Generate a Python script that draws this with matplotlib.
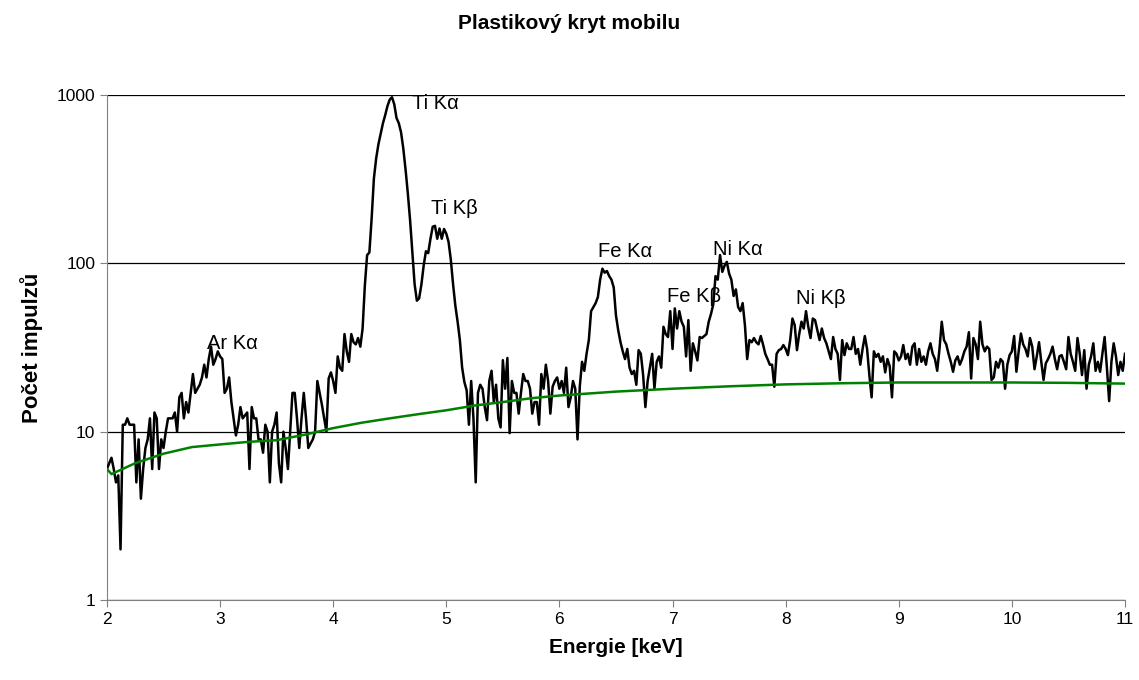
import numpy as np
import matplotlib
matplotlib.use('Agg')
import matplotlib.pyplot as plt
from matplotlib.ticker import FixedLocator, NullLocator, FixedFormatter

plt.rcParams['font.family'] = ['Liberation Sans', 'DejaVu Sans']

# ── data ──────────────────────────────────────────────────────────────────────
E_START = 2.0     # keV, first channel
E_STEP  = 0.02    # keV per channel

counts = [
    6, 6.5, 7, 6, 5, 5.5, 2, 11, 11, 12, 11, 11, 11, 5, 9, 4, 6, 8, 9, 12, 6, 13, 12, 6, 9,
    8, 10, 12, 12, 12, 13, 10, 16, 17, 12, 15, 13, 17, 22, 17, 18, 19, 21, 25, 21, 27, 32, 25, 27, 30,
    28, 27, 17, 18, 21, 15, 12, 9.5, 11, 14, 12, 12.5, 13, 6, 14, 12, 12, 9, 9, 7.5, 11, 10, 5, 10, 11,
    13, 6.5, 5, 10, 8, 6, 10, 17, 17, 12, 8, 12, 17, 12, 8, 8.5, 9, 10, 20, 17, 14.5, 12, 10, 20.7, 22.5,
    20, 17, 28, 24, 23, 38, 30, 26, 38, 34, 33, 36, 32, 41, 74, 112, 116, 185, 320, 420, 510, 590, 680, 760, 860,
    940, 970, 880, 730, 680, 600, 480, 360, 260, 180, 115, 75, 60, 62, 75, 97, 118, 115, 140, 165, 167, 140, 161, 140, 160,
    150, 134, 105, 75, 56, 45, 35, 24, 19.7, 17.6, 11, 20, 12, 5, 17, 19, 18, 14, 11.7, 20, 23, 15, 19, 12, 10.6,
    26.6, 18, 27.4, 9.8, 20, 17, 17, 12.8, 17, 22, 20, 20, 18, 12.8, 15, 15, 11, 22, 18, 25, 20, 12.8, 18.5, 20, 21,
    18, 20, 17, 24, 14, 16, 20, 18, 9, 18.5, 26, 23, 29, 35, 52, 55, 58, 63, 80, 93, 88, 90, 84, 80, 72,
    49, 40, 34, 30, 27, 31, 24, 22, 23, 19, 30.5, 29, 21.7, 14, 20, 24, 29, 18, 26, 28, 24, 42, 38, 36.5, 52,
    31, 54, 41, 52, 45, 42, 28, 46, 23, 33.5, 30, 26.5, 36.5, 36, 37, 38, 45, 50, 57, 84, 80, 112, 89, 97, 102,
    87, 80, 64, 70, 55, 52, 58, 43, 27, 35, 34, 36, 34, 33, 37, 33, 29, 27, 25, 25, 18.5, 29, 30.5, 31, 32.7,
    31, 28.5, 35, 47, 43, 30.5, 38, 45, 41, 52, 42, 36, 47, 46, 40, 35, 41, 36, 33.5, 30, 27, 36.5, 31, 29, 20.3,
    35, 28.5, 33.5, 31, 31, 36.5, 29, 31, 25, 31, 37, 31, 21.7, 16, 30, 27.8, 29, 26, 28, 22.5, 27, 24.5, 16, 30, 29,
    26.5, 28, 32.7, 27, 29, 25, 32, 33.5, 25, 31, 26, 28, 25, 30, 33.5, 29, 27, 23, 31, 45, 35, 33, 29, 26, 22.7,
    26.5, 28, 25, 27, 30, 32, 39, 20.7, 36, 33, 27, 45, 33, 30, 32, 31, 20.3, 21, 26, 24, 27, 26, 18, 25, 28.5,
    30, 37, 22.7, 30, 38.3, 33, 31, 28, 36, 32, 23.5, 28, 34, 26, 20.3, 25.5, 27, 29, 32, 27, 23.5, 28, 28.5, 26, 23.5,
    36.5, 29, 26, 23, 36, 29, 21.7, 30.5, 18, 25, 28, 33.5, 23, 26, 22.7, 29, 36.5, 24, 15.2, 26, 33.5, 28, 21.7, 26, 23,
    29,
]

# smooth background (green curve)
bg_energy = [2.0, 2.04, 2.25, 2.5, 2.75, 3.0, 3.25, 3.5, 3.75, 4.0, 4.25, 4.5, 4.75,
             5.0, 5.25, 5.5, 5.75, 6.0, 6.5, 7.0, 7.5, 8.0, 8.5, 9.0, 9.5, 10.0, 10.5, 11.0]
bg_counts = [6.0, 5.6, 6.5, 7.4, 8.1, 8.4, 8.7, 8.9, 9.6, 10.5, 11.3, 12.0, 12.7,
             13.4, 14.3, 15.0, 15.8, 16.4, 17.3, 18.0, 18.6, 19.1, 19.4, 19.6, 19.6, 19.6, 19.5, 19.3]

# peak labels
peak_names  = ['Ar K\u03b1', 'Ti K\u03b1', 'Ti K\u03b2', 'Fe K\u03b1', 'Fe K\u03b2', 'Ni K\u03b1', 'Ni K\u03b2']
peak_energy = [2.885, 4.70, 4.865, 6.34, 6.95, 7.36, 8.09]
peak_height = [33.5, 890, 212, 117, 63.7, 121, 62]

x_ticks = [2, 3, 4, 5, 6, 7, 8, 9, 10, 11]
y_ticks = [1, 10, 100, 1000]

energy = E_START + E_STEP * np.arange(len(counts))

# ── plot ──────────────────────────────────────────────────────────────────────
fig = plt.figure(figsize=(11.39, 6.8), dpi=100)
ax = fig.add_axes([0.0939, 0.1176, 0.8938, 0.7427])

ax.plot(energy, counts, color='black', lw=1.8, zorder=3)
ax.plot(bg_energy, bg_counts, color='#008000', lw=1.8, zorder=4)

for name, e, h in zip(peak_names, peak_energy, peak_height):
    ax.text(e, h, name, fontsize=14.5, ha='left', va='center', zorder=5)

ax.set_yscale('log')
ax.set_xlim(2, 11)
ax.set_ylim(1, 1000)
ax.xaxis.set_major_locator(FixedLocator(x_ticks))
ax.yaxis.set_major_locator(FixedLocator(y_ticks))
ax.yaxis.set_major_formatter(FixedFormatter([str(v) for v in y_ticks]))
ax.yaxis.set_minor_locator(NullLocator())
ax.xaxis.set_minor_locator(NullLocator())
ax.tick_params(labelsize=12.5, direction='out', length=5, color='#808080')

ax.grid(axis='y', color='black', lw=0.9)
ax.set_axisbelow(True)
for s in ['top', 'right']:
    ax.spines[s].set_visible(False)
for s in ['left', 'bottom']:
    ax.spines[s].set_color('#808080')

ax.set_xlabel('Energie [keV]', fontsize=15, fontweight='bold', labelpad=8)
ax.set_ylabel('Počet impulzů', fontsize=16, fontweight='bold', labelpad=10)
fig.suptitle('Plastikový kryt mobilu', fontsize=15, fontweight='bold', y=0.98)

plt.savefig('out.png', dpi=100)
plt.close()
